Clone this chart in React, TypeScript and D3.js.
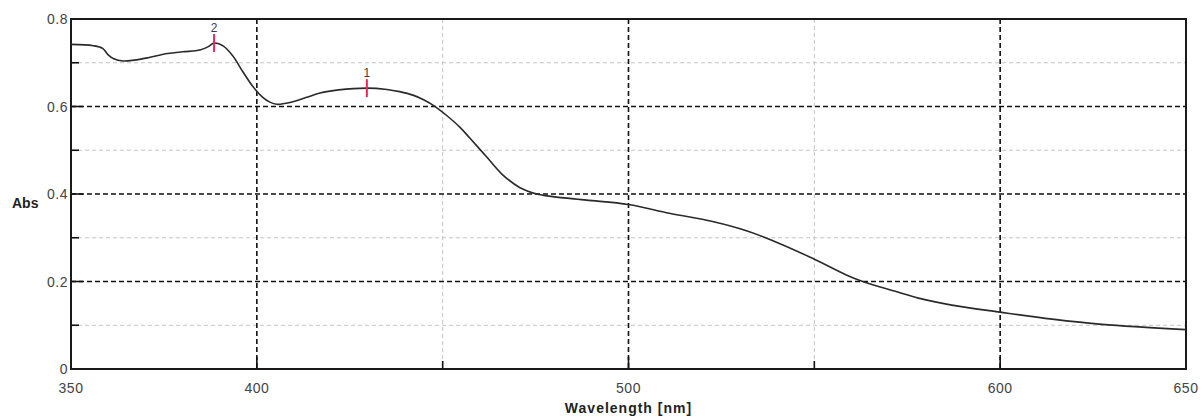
import * as d3 from "d3";
import { useEffect, useRef } from "react";

// spectrum
const wavelengths = [
  350, 356, 358.5, 360, 361.5, 364, 367, 371, 376, 380, 384.7, 387, 388.5,
  391, 393.5, 396.2, 399, 401.6, 403.5, 405.4, 408.9, 413.4, 417, 422, 429.6,
  435, 438.4, 442, 445, 447.8, 451, 454.6, 457.3, 461.8, 466, 470.7, 475.3,
  479.6, 488.7, 500, 511, 522.6, 531.7, 540.6, 549.5, 558.6, 563, 572, 578,
  587, 600, 614, 627.4, 650,
];
const absorbance = [
  0.742, 0.739, 0.733, 0.718, 0.709, 0.704, 0.706, 0.712, 0.721, 0.725, 0.729,
  0.737, 0.745, 0.738, 0.716, 0.68, 0.645, 0.621, 0.61, 0.605, 0.609, 0.621,
  0.631, 0.638, 0.642, 0.639, 0.634, 0.626, 0.615, 0.601, 0.58, 0.553, 0.528,
  0.485, 0.445, 0.415, 0.4, 0.394, 0.386, 0.376, 0.356, 0.337, 0.316, 0.287,
  0.253, 0.215, 0.2, 0.177, 0.162, 0.146, 0.13, 0.114, 0.102, 0.09,
];

const peakLabels = ["1", "2"];
const peakWavelengths = [429.6, 388.5];
const peakValues = [0.642, 0.745];

const xTickLabels = [350, 400, 500, 600, 650];
const xMajorGrid = [400, 500, 600];
const xMinorGrid = [450, 550];
const yTickLabels = [0, 0.2, 0.4, 0.6, 0.8];
const yMajorGrid = [0.2, 0.4, 0.6];
const yMinorGrid = [0.1, 0.3, 0.5, 0.7];

const width = 1204;
const height = 419;
const margin = { top: 19, right: 18, bottom: 50, left: 71 };
const font = "'Liberation Sans', Arial, sans-serif";

export default function App() {
  const svgRef = useRef<SVGSVGElement | null>(null);

  useEffect(() => {
    if (!svgRef.current) return;
    drawChart(svgRef.current);
  }, []);

  return (
    <svg
      ref={svgRef}
      width={width}
      height={height}
      style={{ position: "absolute", left: 0, top: 0, background: "#fff" }}
    />
  );
}

function drawChart(svgElement: SVGSVGElement) {
  const svg = d3.select(svgElement);
  svg.selectAll("*").remove();

  const plotRight = width - margin.right;
  const plotBottom = height - margin.bottom;

  const xScale = d3.scaleLinear().domain([350, 650]).range([margin.left, plotRight]);
  const yScale = d3.scaleLinear().domain([0, 0.8]).range([plotBottom, margin.top]);

  svg.append("rect").attr("width", width).attr("height", height).attr("fill", "#fff");

  // minor grid, light grey dashes
  const minor = svg.append("g").attr("stroke", "#c4c4c4").attr("stroke-width", 1).attr("stroke-dasharray", "4,3");
  minor
    .selectAll("line.h")
    .data(yMinorGrid)
    .join("line")
    .attr("class", "h")
    .attr("x1", margin.left)
    .attr("x2", plotRight)
    .attr("y1", (d) => yScale(d))
    .attr("y2", (d) => yScale(d));
  minor
    .selectAll("line.v")
    .data(xMinorGrid)
    .join("line")
    .attr("class", "v")
    .attr("x1", (d) => xScale(d))
    .attr("x2", (d) => xScale(d))
    .attr("y1", margin.top)
    .attr("y2", plotBottom);

  // major grid, black dashes
  const major = svg.append("g").attr("stroke", "#111").attr("stroke-width", 1.6).attr("stroke-dasharray", "5,3");
  major
    .selectAll("line.h")
    .data(yMajorGrid)
    .join("line")
    .attr("class", "h")
    .attr("x1", margin.left)
    .attr("x2", plotRight)
    .attr("y1", (d) => yScale(d))
    .attr("y2", (d) => yScale(d));
  major
    .selectAll("line.v")
    .data(xMajorGrid)
    .join("line")
    .attr("class", "v")
    .attr("x1", (d) => xScale(d))
    .attr("x2", (d) => xScale(d))
    .attr("y1", margin.top)
    .attr("y2", plotBottom);

  // inward ticks
  const ticks = svg.append("g").attr("stroke", "#111").attr("stroke-width", 1.6);
  ticks
    .selectAll("line.ym")
    .data(yMajorGrid)
    .join("line")
    .attr("class", "ym")
    .attr("x1", margin.left)
    .attr("x2", margin.left + 12)
    .attr("y1", (d) => yScale(d))
    .attr("y2", (d) => yScale(d));
  ticks
    .selectAll("line.yn")
    .data(yMinorGrid)
    .join("line")
    .attr("class", "yn")
    .attr("x1", margin.left)
    .attr("x2", margin.left + 8)
    .attr("y1", (d) => yScale(d))
    .attr("y2", (d) => yScale(d));
  ticks
    .selectAll("line.xm")
    .data(xMajorGrid)
    .join("line")
    .attr("class", "xm")
    .attr("x1", (d) => xScale(d))
    .attr("x2", (d) => xScale(d))
    .attr("y1", plotBottom)
    .attr("y2", plotBottom - 12);
  ticks
    .selectAll("line.xn")
    .data(xMinorGrid)
    .join("line")
    .attr("class", "xn")
    .attr("x1", (d) => xScale(d))
    .attr("x2", (d) => xScale(d))
    .attr("y1", plotBottom)
    .attr("y2", plotBottom - 8);

  // frame
  svg
    .append("rect")
    .attr("x", margin.left)
    .attr("y", margin.top)
    .attr("width", plotRight - margin.left)
    .attr("height", plotBottom - margin.top)
    .attr("fill", "none")
    .attr("stroke", "#1a1a1a")
    .attr("stroke-width", 2);

  // spectrum
  const points = wavelengths.map((w, i) => [w, absorbance[i]] as [number, number]);
  const line = d3
    .line<[number, number]>()
    .x((d) => xScale(d[0]))
    .y((d) => yScale(d[1]))
    .curve(d3.curveCatmullRom.alpha(0.5));

  svg
    .append("path")
    .attr("d", line(points))
    .attr("fill", "none")
    .attr("stroke", "#2a2a2a")
    .attr("stroke-width", 1.6)
    .attr("stroke-linejoin", "round");

  // peak markers
  const peaks = svg
    .append("g")
    .selectAll("g")
    .data(peakLabels)
    .join("g")
    .attr("transform", (_, i) => `translate(${xScale(peakWavelengths[i])}, ${yScale(peakValues[i])})`);
  peaks
    .append("line")
    .attr("y1", -9)
    .attr("y2", 9)
    .attr("stroke", "#e8285a")
    .attr("stroke-width", 2);
  peaks
    .append("text")
    .attr("y", -11)
    .attr("text-anchor", "middle")
    .attr("fill", "#4a3a40")
    .style("font-family", font)
    .style("font-size", "12px")
    .text((d) => d);

  // tick labels
  svg
    .append("g")
    .selectAll("text")
    .data(xTickLabels)
    .join("text")
    .attr("x", (d) => xScale(d))
    .attr("y", plotBottom + 24)
    .attr("text-anchor", "middle")
    .attr("fill", "#444")
    .style("font-family", font)
    .style("font-size", "14px")
    .style("letter-spacing", "0.5px")
    .text((d) => d3.format("d")(d));

  svg
    .append("g")
    .selectAll("text")
    .data(yTickLabels)
    .join("text")
    .attr("x", margin.left - 3)
    .attr("y", (d) => yScale(d) + 5)
    .attr("text-anchor", "end")
    .attr("fill", "#444")
    .style("font-family", font)
    .style("font-size", "14px")
    .style("letter-spacing", "0.5px")
    .text((d) => (d === 0 ? "0" : d3.format(".1f")(d)));

  // axis titles
  svg
    .append("text")
    .attr("x", xScale(500))
    .attr("y", height - 6)
    .attr("text-anchor", "middle")
    .attr("fill", "#222")
    .style("font-family", font)
    .style("font-size", "14px")
    .style("font-weight", "bold")
    .style("letter-spacing", "1px")
    .text("Wavelength [nm]");

  svg
    .append("text")
    .attr("x", 12)
    .attr("y", yScale(0.4) + 14)
    .attr("fill", "#222")
    .style("font-family", font)
    .style("font-size", "14px")
    .style("font-weight", "bold")
    .text("Abs");
}
